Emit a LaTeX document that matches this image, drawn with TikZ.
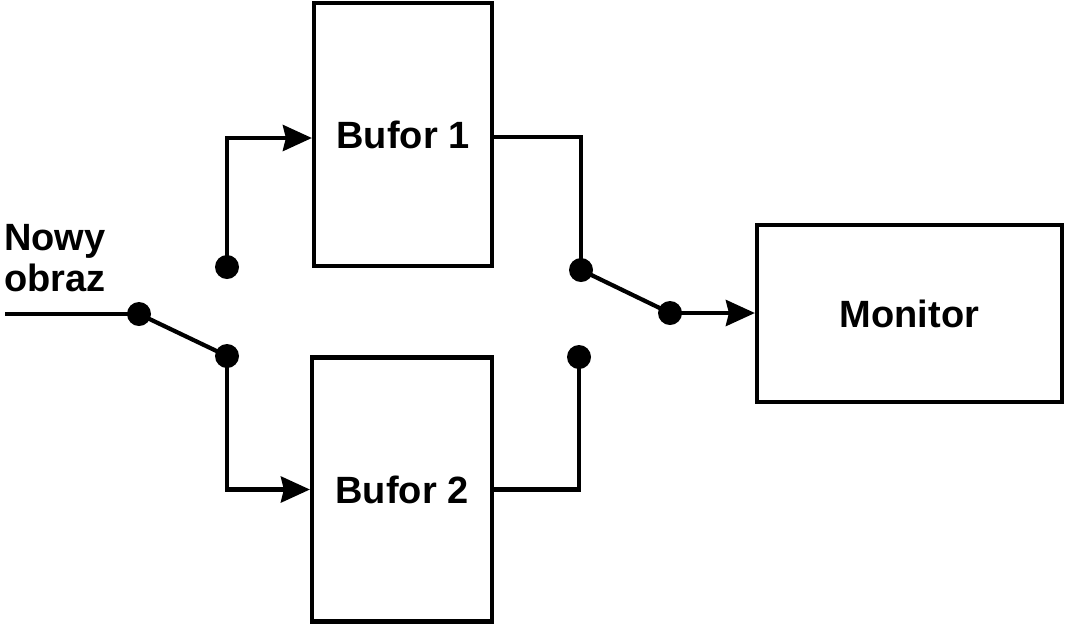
\documentclass[tikz,border=0pt]{standalone}
\usepackage{fontspec}
\setmainfont{Liberation Sans}
\usetikzlibrary{arrows.meta}
\begin{document}
\begin{tikzpicture}[x=1pt,y=-1pt,
  line width=4.2pt,
  lbl/.style={font=\fontsize{38}{41}\selectfont\bfseries},
  block/.style={draw, rectangle, inner sep=0pt, lbl},
  dot/.style={circle, fill, inner sep=0pt, minimum size=24pt},
  flow/.style={-{Stealth[length=29pt,width=26pt,inset=3pt]}}]
  \useasboundingbox (0,0) rectangle (1065,625);

  % blocks
  \node[block, minimum width=178pt, minimum height=263pt] (b1) at (403,134.5) {Bufor 1};
  \node[block, minimum width=180pt, minimum height=264pt] (b2) at (402,489.5) {Bufor 2};
  \node[block, minimum width=305pt, minimum height=177pt] (mon) at (909.5,313.5) {Monitor};

  % input label
  \node[lbl, align=left, inner sep=0pt, anchor=north west] (txt) at (2,222) {Nowy\\obraz};

  % switch contacts
  \node[dot] (sin) at (139,314) {};
  \coordinate (in) at (5,314);
  \node[dot] (up) at (227,267) {};
  \node[dot] (lo) at (227,356) {};
  \node[dot] (r1) at (581,270) {};
  \node[dot] (r2) at (579,357) {};
  \node[dot] (sout) at (670,313) {};

  % input switch (wires run into the contact centres)
  \draw (in) -- (sin.center);
  \draw (sin.center) -- (lo.center);
  \draw[flow] (up.center) |- ([yshift=-3.5pt]b1.west);
  \draw[flow] (lo.center) |- (b2.west);

  % output switch
  \draw ([yshift=-2.5pt]b1.east) -| (r1.center);
  \draw (b2.east) -| (r2.center);
  \draw (r1.center) -- (sout.center);
  \draw[flow] (sout.center) -- (mon.west |- sout);
\end{tikzpicture}
\end{document}
